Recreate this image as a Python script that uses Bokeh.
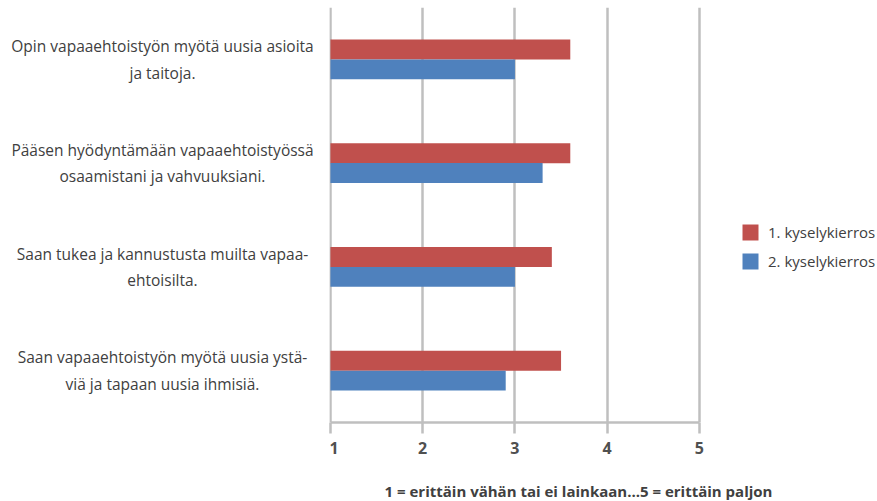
from bokeh.plotting import figure
from bokeh.layouts import row, column
from bokeh.models import ColumnDataSource, FactorRange, Range1d, Legend, LegendItem, FixedTicker
from bokeh.core.properties import value
from bokeh.transform import dodge
from bokeh.embed import file_html
from bokeh.resources import INLINE

categories = [
    "Opin vapaaehtoistyön myötä uusia asioita\nja taitoja.",
    "Pääsen hyödyntämään vapaaehtoistyössä\nosaamistani ja vahvuuksiani.",
    "Saan tukea ja kannustusta muilta vapaa-\nehtoisilta.",
    "Saan vapaaehtoistyön myötä uusia ystä-\nviä ja tapaan uusia ihmisiä.",
]
round1 = [3.6, 3.6, 3.4, 3.5]
round2 = [3.0, 3.3, 3.0, 2.9]
series_names = ["1. kyselykierros", "2. kyselykierros"]
x_ticks = [1, 2, 3, 4, 5]
x_title = "1 = erittäin vähän tai ei lainkaan...5 = erittäin paljon"

FONT = "Open Sans"
TXT = "#404040"
GRID = "#BFBFBF"
TOP, BOTTOM = 7, 49
LEFT_W, MAIN_W, H = 329, 548, 471
FOOT_H = 30

src = ColumnDataSource(dict(cat=categories, r1=round1, r2=round2,
                            base=[1] * len(categories),
                            lx=[162] * len(categories)))

yr = FactorRange(*list(reversed(categories)), range_padding=0)

# left panel: category labels
lp = figure(width=LEFT_W, height=H, output_backend="svg", toolbar_location=None,
            y_range=yr, x_range=Range1d(0, LEFT_W),
            min_border_left=0, min_border_right=0, min_border_top=TOP, min_border_bottom=BOTTOM)
lp.axis.visible = False
lp.grid.visible = False
lp.outline_line_color = None
lp.text(x="lx", y="cat", text="cat", source=src, text_align="center", text_baseline="middle",
        text_font=value(FONT), text_font_size="15.5px", text_color=TXT, text_line_height=1.2)

# main plot (frame extends to the right edge so that the legend sits inside it)
p = figure(width=MAIN_W, height=H, output_backend="svg", toolbar_location=None,
           y_range=yr, x_range=Range1d(0.99, 6.93),
           min_border_left=0, min_border_right=0, min_border_top=TOP, min_border_bottom=BOTTOM)
p.outline_line_color = None

r1 = p.hbar(y=dodge("cat", 0.096, range=yr), left="base", right="r1", height=0.192,
            source=src, fill_color="#C0504D", line_color=None)
r2 = p.hbar(y=dodge("cat", -0.096, range=yr), left="base", right="r2", height=0.192,
            source=src, fill_color="#4F81BD", line_color=None)

p.xaxis.ticker = FixedTicker(ticks=x_ticks)
p.xaxis.bounds = (x_ticks[0], x_ticks[-1])
p.xaxis.axis_line_color = GRID
p.xaxis.axis_line_width = 2.5
p.xaxis.major_tick_line_color = GRID
p.xaxis.major_tick_line_width = 2.5
p.xaxis.major_tick_out = 11
p.xaxis.major_tick_in = 0
p.xaxis.minor_tick_line_color = None
p.xaxis.major_label_text_font = FONT
p.xaxis.major_label_text_font_size = "16px"
p.xaxis.major_label_text_font_style = "bold"
p.xaxis.major_label_text_color = "#505050"
p.xaxis.major_label_standoff = 8

p.xgrid.grid_line_color = GRID
p.xgrid.grid_line_width = 2.5
p.ygrid.grid_line_color = None
p.yaxis.visible = False

legend = Legend(items=[LegendItem(label=series_names[0], renderers=[r1]),
                       LegendItem(label=series_names[1], renderers=[r2])],
                location=(411, 151), padding=0, margin=0, spacing=9,
                glyph_width=20, glyph_height=20, label_standoff=8,
                label_text_font=FONT, label_text_font_size="15px", label_text_color=TXT,
                border_line_color=None, background_fill_alpha=0)
p.add_layout(legend, "center")

# footer: axis explanation
fsrc = ColumnDataSource(dict(x=[578], y=[11], t=[x_title]))
fp = figure(width=LEFT_W + MAIN_W, height=FOOT_H, output_backend="svg", toolbar_location=None,
            x_range=Range1d(0, LEFT_W + MAIN_W), y_range=Range1d(0, FOOT_H),
            min_border=0)
fp.axis.visible = False
fp.grid.visible = False
fp.outline_line_color = None
fp.text(x="x", y="y", text="t", source=fsrc, text_align="center", text_baseline="middle",
        text_font=value(FONT), text_font_size="15px", text_font_style="bold", text_color=TXT)

layout = column(row(lp, p, spacing=0), fp, spacing=0)
open("out.html", "w").write(file_html(layout, INLINE))
